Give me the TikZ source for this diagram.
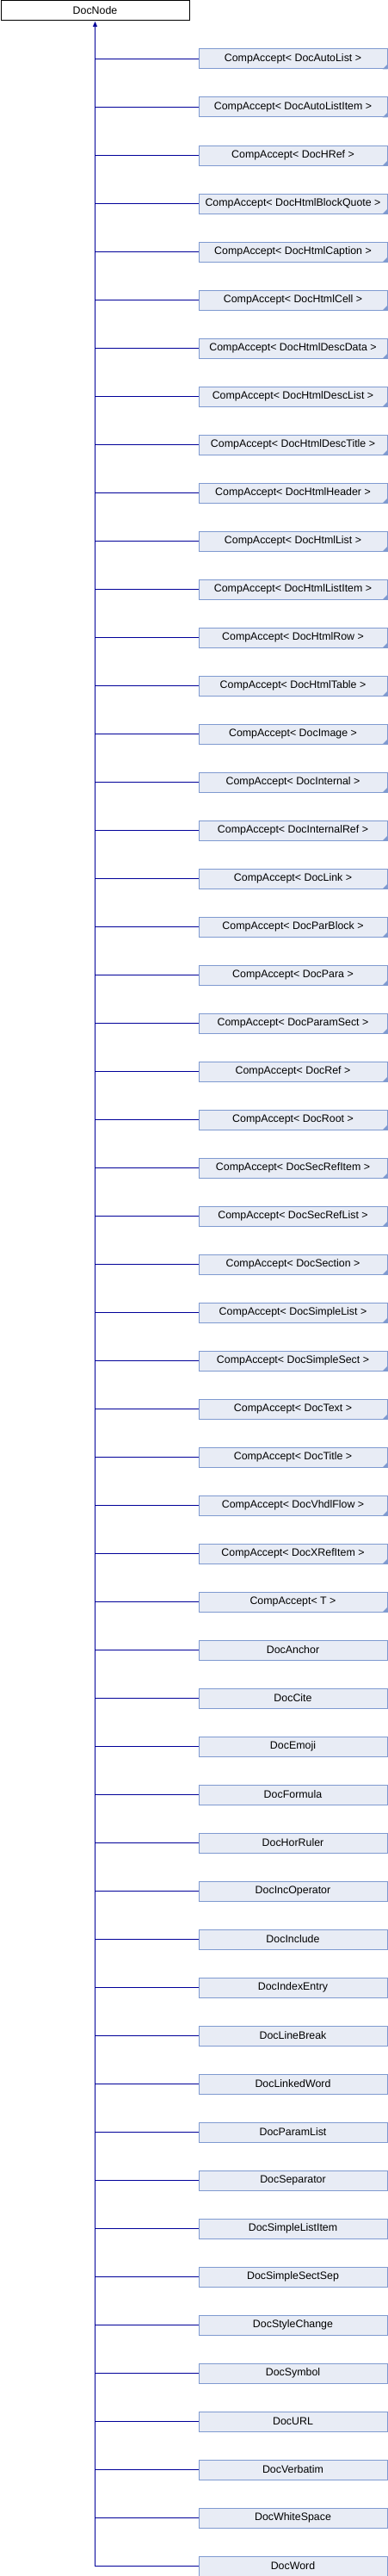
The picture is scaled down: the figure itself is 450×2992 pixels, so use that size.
\documentclass[tikz,border=0pt]{standalone}
\usepackage{fontspec}
\setmainfont{Liberation Sans}
\usetikzlibrary{arrows.meta}
\definecolor{boxfill}{HTML}{E8ECF5}
\definecolor{boxline}{HTML}{7F9AD0}
\definecolor{edgecol}{HTML}{000099}
\tikzset{
  every node/.style={font=\fontsize{12.4}{14}\selectfont},
  basebox/.style={draw=black, fill=white, line width=1pt, minimum width=219pt, minimum height=23pt, inner sep=0pt, anchor=north west},
  childbox/.style={draw=boxline, fill=boxfill, line width=1pt, minimum width=219pt, minimum height=23pt, inner sep=0pt, anchor=north west},
  edge/.style={draw=edgecol, line width=1pt},
  fold/.style={fill=boxline}
}
\begin{document}
\begin{tikzpicture}[x=1pt,y=1pt]
\useasboundingbox (0,0) rectangle (450,-2992);
\node[basebox] (base) at (0.5,-0.5) {DocNode};
\coordinate (tip) at (110.5,-25);
\foreach \nm [count=\i from 0] in {DocAutoList,DocAutoListItem,DocHRef,DocHtmlBlockQuote,DocHtmlCaption,DocHtmlCell,DocHtmlDescData,DocHtmlDescList,DocHtmlDescTitle,DocHtmlHeader,DocHtmlList,DocHtmlListItem,DocHtmlRow,DocHtmlTable,DocImage,DocInternal,DocInternalRef,DocLink,DocParBlock,DocPara,DocParamSect,DocRef,DocRoot,DocSecRefItem,DocSecRefList,DocSection,DocSimpleList,DocSimpleSect,DocText,DocTitle,DocVhdlFlow,DocXRefItem,T}{
  \node[childbox] (c\i) at (230.5,-56.5-56*\i) {CompAccept<\ \nm\ >};
  \fill[fold] (c\i.south east) -- ++(0,6) -- ++(-6,-6) -- cycle;
  \coordinate (j\i) at (110.5,-68.5-56*\i);
  \draw[edge] (j\i) -- (c\i.west);
}
\foreach \nm [count=\i from 33] in {DocAnchor,DocCite,DocEmoji,DocFormula,DocHorRuler,DocIncOperator,DocInclude,DocIndexEntry,DocLineBreak,DocLinkedWord,DocParamList,DocSeparator,DocSimpleListItem,DocSimpleSectSep,DocStyleChange,DocSymbol,DocURL,DocVerbatim,DocWhiteSpace,DocWord}{
  \node[childbox] (c\i) at (230.5,-56.5-56*\i) {\nm};
  \coordinate (j\i) at (110.5,-68.5-56*\i);
  \draw[edge] (j\i) -- (c\i.west);
}
\draw[edge, -{Triangle[length=6pt,width=5pt]}] (j52) -- (tip);
\end{tikzpicture}
\end{document}
